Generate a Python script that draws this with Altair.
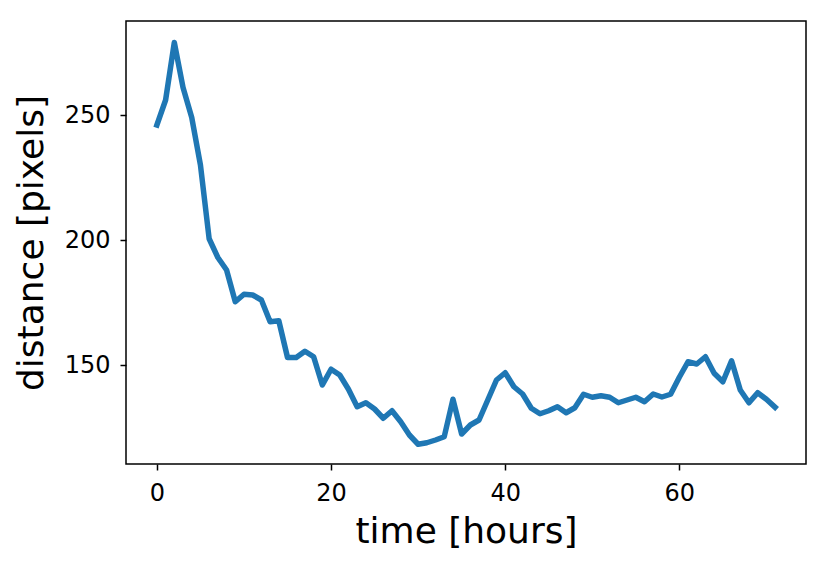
import altair as alt
import pandas as pd

hours = list(range(72))
distance = [
    246, 256, 279, 261, 249, 230, 200.5, 193, 188, 175.3,
    178.3, 178, 176, 167.3, 167.7, 153, 153, 155.5, 153.3, 142,
    148.3, 146, 140.3, 133.3, 134.9, 132.4, 128.7, 131.7, 127.3, 122,
    118.3, 118.9, 120, 121.3, 136.3, 122.4, 126, 128, 136, 144,
    146.9, 141.3, 138.4, 132.7, 130.5, 131.7, 133.3, 130.9, 132.9, 138.3,
    137.1, 137.7, 137.1, 134.9, 136, 137.1, 135.3, 138.4, 137.2, 138.3,
    145.1, 151.3, 150.4, 153.3, 146.7, 143.3, 151.7, 140, 134.9, 138.9,
    136.3, 133.1,
]
x_ticks = [0, 20, 40, 60]
y_ticks = [150, 200, 250]
x_domain = [-3.55, 74.55]
y_domain = [110.4, 287.6]

df = pd.DataFrame({"hours": hours, "distance": distance})

chart = alt.Chart(df).mark_line(
    color="#1f77b4", strokeWidth=5.5, strokeCap="square", strokeJoin="round"
).encode(
    x=alt.X(
        "hours:Q",
        scale=alt.Scale(domain=x_domain, nice=False, zero=False),
        axis=alt.Axis(
            values=x_ticks, title="time [hours]", grid=False, domain=False,
            tickSize=6, tickWidth=1.5, tickColor="black",
            labelFontSize=24, labelColor="black", labelPadding=11,
            labelFont="DejaVu Sans", titleFont="DejaVu Sans",
            titleFontSize=36, titleFontWeight="normal", titleColor="black",
            titleBaseline="alphabetic", titleY=78, labelFlush=False,
        ),
    ),
    y=alt.Y(
        "distance:Q",
        scale=alt.Scale(domain=y_domain, nice=False, zero=False),
        axis=alt.Axis(
            values=y_ticks, title="distance [pixels]", grid=False, domain=False,
            tickSize=6, tickWidth=1.5, tickColor="black",
            labelFontSize=24, labelColor="black", labelPadding=10,
            labelFont="DejaVu Sans", titleFont="DejaVu Sans",
            titleFontSize=36, titleFontWeight="normal", titleColor="black",
            titleBaseline="alphabetic", titleAngle=270, titleX=-84, titleY=221.5,
            titleAlign="center", labelFlush=False,
        ),
    ),
).properties(
    width=680,
    height=443,
    background="white",
    autosize=alt.AutoSizeParams(type="none"),
    padding={"left": 118, "top": 13, "right": 16, "bottom": 85},
).configure_view(
    stroke="black", strokeWidth=1.5
)

chart.save("out.html", embed_options={"renderer": "svg", "actions": False})
